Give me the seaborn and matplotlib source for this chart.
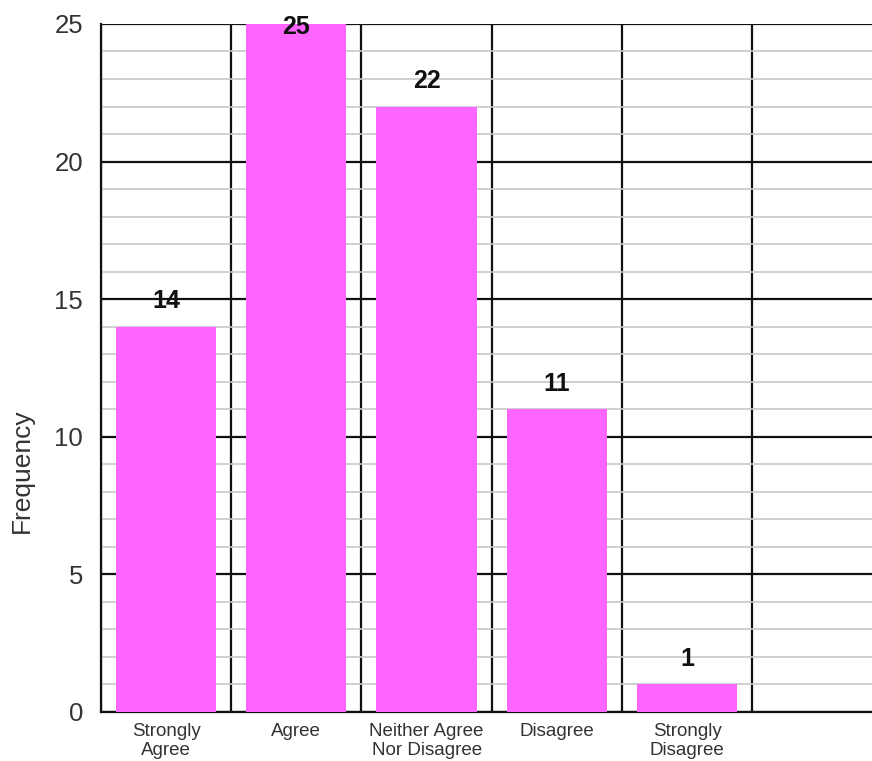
import numpy as np
import pandas as pd
import matplotlib.pyplot as plt
import seaborn as sns
from matplotlib.ticker import MultipleLocator

# Dados do gráfico
categorias = ['Strongly\nAgree', 'Agree', 'Neither Agree\nNor Disagree', 'Disagree', 'Strongly\nDisagree']
frequencias = [14, 25, 22, 11, 1]

sns.set_style('white')
plt.rcParams['font.family'] = ['Liberation Sans', 'DejaVu Sans']

dados = pd.DataFrame({'Categoria': categorias, 'Frequencia': frequencias})

fig = plt.figure(figsize=(8.72, 7.61), dpi=100)
ax = fig.add_axes([0.1158, 0.0644, 0.8842, 0.9041])

sns.barplot(data=dados, x='Categoria', y='Frequencia', color='#ff66ff',
            saturation=1, width=0.77, linewidth=0, ax=ax, zorder=3)

ax.set_ylim(0, 25)
ax.set_xlim(-0.5, 5.42)

# grade: linhas pretas a cada 5, cinzas a cada 1
ax.yaxis.set_major_locator(MultipleLocator(5))
ax.yaxis.set_minor_locator(MultipleLocator(1))
ax.grid(which='major', axis='y', color='#111111', lw=1.6, zorder=1)
ax.grid(which='minor', axis='y', color='#c8c8c8', lw=1.2, zorder=0)

limites = np.arange(len(categorias) + 1) - 0.5
ax.set_xticks(limites)
ax.set_xticklabels([''] * len(limites))
ax.set_xticks(np.arange(len(categorias)), minor=True)
ax.set_xticklabels(categorias, minor=True, fontsize=13.5, color='#333333', linespacing=1.15)
ax.grid(which='major', axis='x', color='#111111', lw=1.6, zorder=1)

ax.tick_params(axis='x', which='major', length=9, width=1.6, color='#111111')
ax.tick_params(axis='x', which='minor', length=0, pad=8)
ax.tick_params(axis='y', which='major', length=9, width=1.6, color='#111111',
               labelsize=18.5, labelcolor='#333333', pad=4)
ax.tick_params(axis='y', which='minor', length=4, width=1.2, color='#c8c8c8')

ax.set_xlabel('')
ax.set_ylabel('Frequency', fontsize=19, color='#333333')
ax.yaxis.set_label_coords(-0.087, 0.35)

for s in ['top', 'right']:
    ax.spines[s].set_visible(False)
ax.spines['left'].set_color('#111111')
ax.spines['left'].set_linewidth(1.6)
ax.spines['bottom'].set_color('#111111')
ax.spines['bottom'].set_linewidth(1.6)

for i, v in enumerate(frequencias):
    ax.text(i, min(v + 0.92, 24.88), str(v), ha='center', va='center',
            fontsize=18, fontweight='bold', color='#111111', zorder=5, clip_on=False)

plt.savefig('out.png', dpi=100)
